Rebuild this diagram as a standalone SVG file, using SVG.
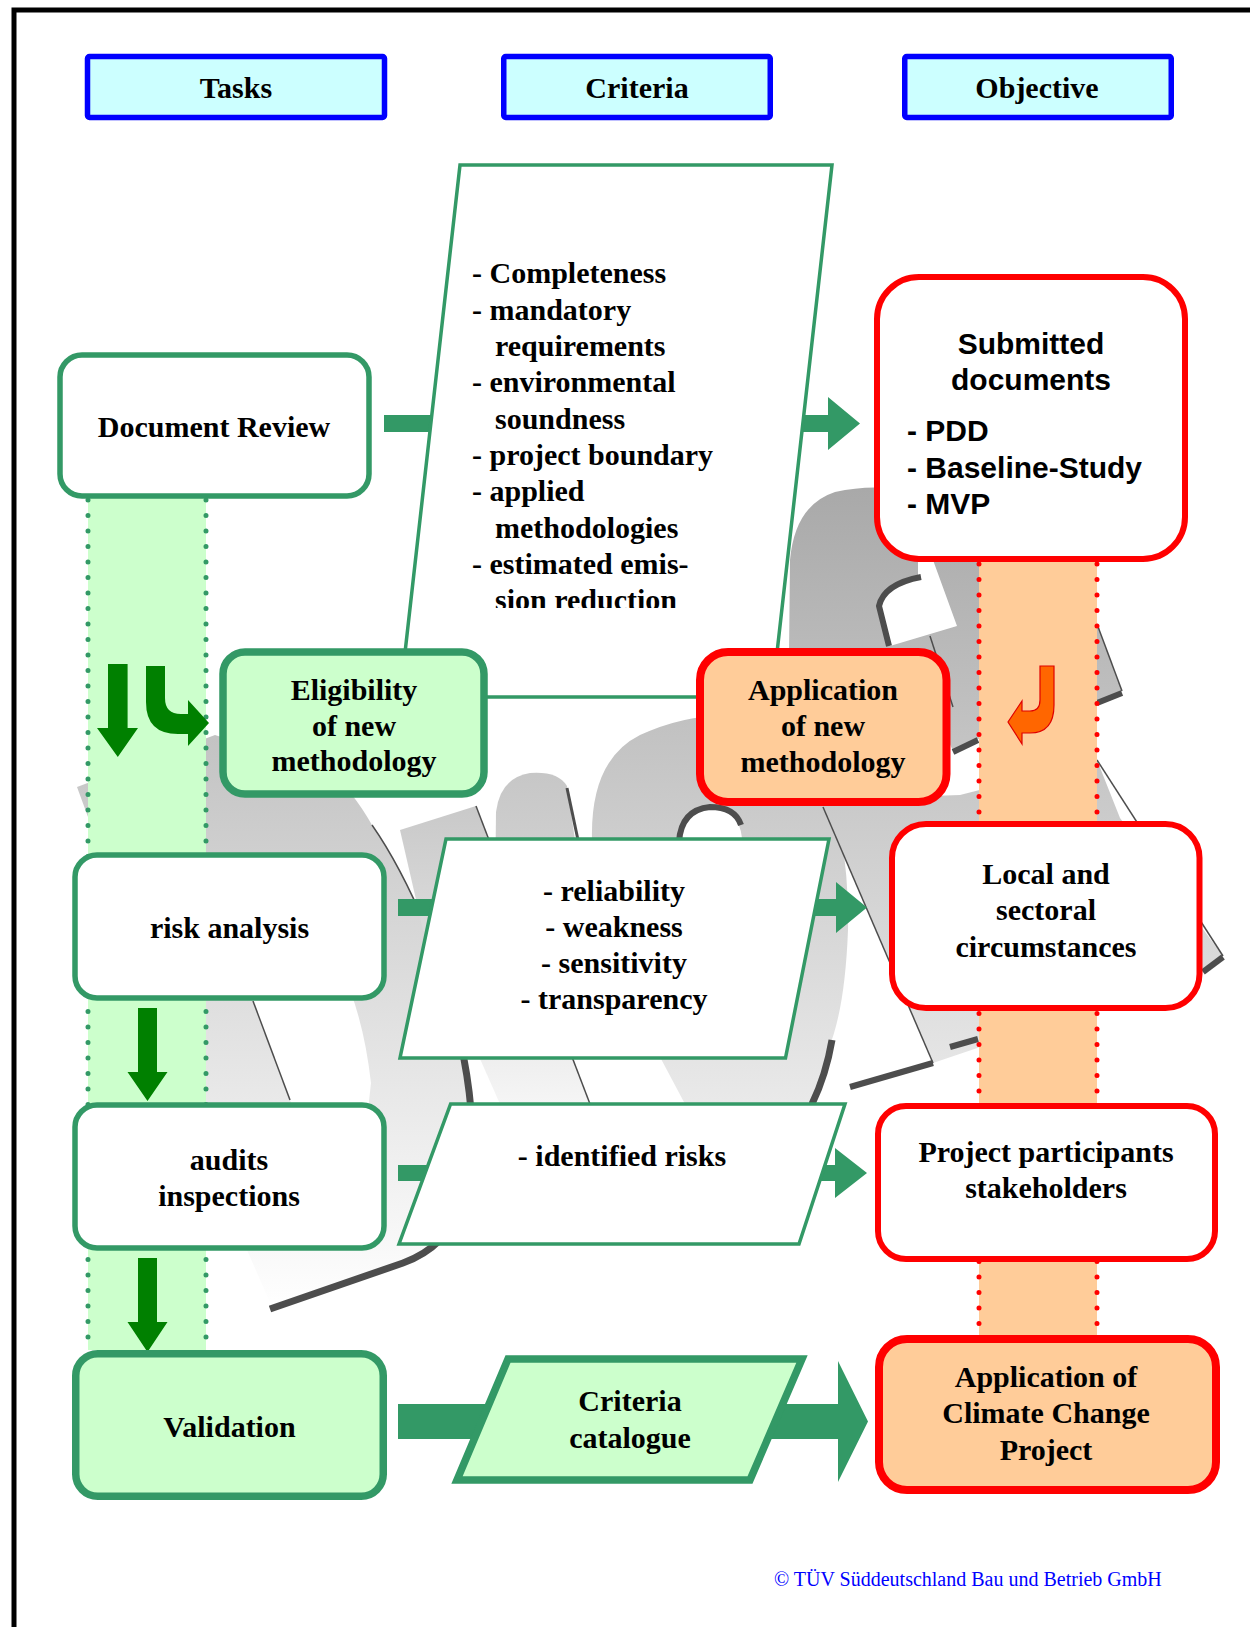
<svg xmlns="http://www.w3.org/2000/svg" width="1250" height="1627" viewBox="0 0 1250 1627">
<style>
.t{font-family:'Liberation Serif','Times New Roman',serif;font-weight:bold;font-size:30px;fill:#000}
.s{font-family:'Liberation Sans',Arial,sans-serif;font-weight:bold;font-size:30px;fill:#000}
.c{text-anchor:middle}
.gb{fill:#fff;stroke:#339966;stroke-width:5.5}
.gf{fill:#CCFFCC;stroke:#339966;stroke-width:7.5}
.rb{fill:#fff;stroke:#FF0000;stroke-width:6}
.rf{fill:#FFCC99;stroke:#FF0000;stroke-width:8}
.hd{fill:#CCFFFF;stroke:#0000FF;stroke-width:5.5}
.pg{fill:#fff;stroke:#339966;stroke-width:3.5}
.ar{fill:#339966}
.dg{fill:#008000}
.gd{stroke:#339966;stroke-width:5;stroke-linecap:round;stroke-dasharray:0 15.5;fill:none}
.rd{stroke:#FF0000;stroke-width:5;stroke-linecap:round;stroke-dasharray:0 15.5;fill:none}
.wm{fill:url(#wm)}
.wa{fill:url(#wa)}
.sh{fill:none;stroke:#4d4d4d}
</style>
<defs>
<linearGradient id="wm" gradientUnits="userSpaceOnUse" x1="0" y1="480" x2="0" y2="1310">
<stop offset="0" stop-color="#a8a8a8"/><stop offset="1" stop-color="#ffffff"/>
</linearGradient>
<linearGradient id="wa" gradientUnits="userSpaceOnUse" x1="0" y1="800" x2="0" y2="1110">
<stop offset="0" stop-color="#c8c8c8"/><stop offset="1" stop-color="#f6f6f6"/>
</linearGradient>
<clipPath id="clip1"><rect x="440" y="160" width="400" height="448"/></clipPath>
</defs>

<rect x="0" y="0" width="1250" height="1627" fill="#fff"/>
<path d="M14,1627 V10 H1250" fill="none" stroke="#000" stroke-width="5"/>

<g id="watermark">
<path class="wm" fill-rule="evenodd" d="M77,787 L215,735 L330,772 Q352,790 372,825 Q400,865 427,929 Q452,995 465,1060 Q482,1160 470,1210 Q460,1235 433,1243 L403,1263 L272,1307 L247,1250 Z M240,955 L253,1001 L290,1100 Q305,1150 330,1185 Q355,1160 368,1110 L371,1083 Q365,1030 350,990 L335,955 Z"/>
<path class="sh" stroke-width="1.5" d="M253,1001 L290,1100"/>
<path class="sh" stroke-width="1.5" d="M372,825 Q400,865 427,929 Q452,995 460,1040"/>
<path class="sh" stroke-width="7" d="M460,1040 Q468,1075 471,1110"/>
<path class="sh" stroke-width="7" d="M270,1309 L403,1263 Q425,1255 440,1240"/>
<path class="wa" d="M400,830 L476,806 L590,1104 L500,1104 L423,930 Z"/>
<path class="sh" stroke-width="1.5" d="M476,806 L590,1104"/>
<path class="wm" d="M495,900 L496,812 Q500,778 530,773 Q558,771 567,786 L578,860 L578,900 Z"/>
<path class="sh" stroke-width="3" d="M567,788 L578,840"/>
<path class="wm" d="M592,840 Q590,760 640,735 Q690,712 740,716 L810,740 Q850,820 848,930 Q845,1010 828,1050 L812,1104 L685,1104 L660,1057 Z"/>
<path fill="#fff" d="M678,840 Q680,808 710,806 Q738,806 742,838 L742,900 L678,900 Z"/>
<path class="sh" stroke-width="6" d="M679,842 Q681,810 710,807 Q735,807 741,825"/>
<path class="sh" stroke-width="7" d="M832,1040 Q826,1075 812,1104"/>
<path class="wm" d="M789,655 L790,560 Q795,505 835,492 Q870,484 905,490 L1000,520 L1074,562 L1122,691 L1097,703 L978,739 L953,751 L930,700 L900,650 Z"/>
<path fill="#fff" d="M918,560 L933,560 L957,626 L890,646 L878,605 Q882,585 918,578 Z"/>
<path class="sh" stroke-width="6" d="M921,577 Q884,584 879,606 L889,646"/>
<path class="sh" stroke-width="1.5" d="M930,636 L953,707"/>
<path class="sh" stroke-width="1.5" d="M1097,624 L1122,691"/>
<path class="sh" stroke-width="6" d="M1097,703 L1122,693"/>
<path class="sh" stroke-width="6" d="M953,752 L978,740"/>
<path class="wm" d="M815,800 L960,795 L1097,760 L1120,818 L1223,956 L1203,972 L933,1063 L823,807 Z"/>
<path class="sh" stroke-width="1.5" d="M823,807 L933,1063"/>
<path class="sh" stroke-width="1.5" d="M1097,760 L1223,956"/>
<path class="sh" stroke-width="6" d="M850,1087 L933,1063"/>
<path class="sh" stroke-width="6" d="M950,1047 L978,1039"/>
<path class="sh" stroke-width="6" d="M1203,972 L1223,957"/>
</g>

<g id="bands">
<rect x="88" y="498" width="118" height="852" fill="#CCFFCC"/>
<path class="gd" d="M88,500 V1350 M206,500 V1350"/>
<rect x="979" y="562" width="118" height="776" fill="#FFCC99"/>
<path class="rd" d="M979,564 V1338 M1097,564 V1338"/>
</g>

<g id="connectors">
<path class="ar" d="M384,415 H828 V397 L860,423.5 L828,450 V432 H384 Z"/>
<path class="ar" d="M398,899 H836 V882 L867,907.5 L836,933 V916 H398 Z"/>
<path class="ar" d="M398,1165 H835 V1148 L867,1173 L835,1198 V1181 H398 Z"/>
<path class="ar" d="M398,1404 H838 V1361 L868,1421.5 L838,1482 V1439 H398 Z"/>
<path class="dg" d="M108,664 H127.6 V728 H138 L117.8,757 L97,728 H108 Z"/>
<path class="dg" d="M146,666 H165 V698 Q165,714 181,714 H188 V700 L209,723 L188,746 V734 H178 Q146,734 146,702 Z"/>
<path class="dg" d="M138,1008 H157 V1072 H167.5 L147.5,1101 L127.5,1072 H138 Z"/>
<path class="dg" d="M138,1258 H157 V1322 H167.5 L147.5,1352 L127.5,1322 H138 Z"/>
<path d="M1040,666 H1054 V705 Q1054,733 1030,733 H1022 V744 L1008,722 L1022,701 V711 H1030 Q1040,711 1040,700 Z" fill="#FF6600" stroke="#E00000" stroke-width="1.2"/>
</g>

<g id="header-tasks"><rect class="hd" x="87.5" y="56.5" width="297" height="61" rx="2"/><text class="t c" x="236" y="98">Tasks</text></g>
<g id="header-criteria"><rect class="hd" x="503.75" y="56.5" width="266.5" height="61" rx="2"/><text class="t c" x="637" y="98">Criteria</text></g>
<g id="header-objective"><rect class="hd" x="904.75" y="56.5" width="266.5" height="61" rx="2"/><text class="t c" x="1037" y="98">Objective</text></g>

<g id="criteria-documents">
<polygon class="pg" stroke-width="3" points="460,165 832,165 772,697 400,697"/>
<g clip-path="url(#clip1)">
<text class="t" x="472" y="283">- Completeness</text>
<text class="t" x="472" y="319.5">- mandatory</text>
<text class="t" x="495" y="356">requirements</text>
<text class="t" x="472" y="392">- environmental</text>
<text class="t" x="495" y="428.5">soundness</text>
<text class="t" x="472" y="465">- project boundary</text>
<text class="t" x="472" y="501">- applied</text>
<text class="t" x="495" y="537.5">methodologies</text>
<text class="t" x="472" y="574">- estimated emis-</text>
<text class="t" x="495" y="610">sion reduction</text>
</g>
</g>

<g id="document-review"><rect class="gb" x="60" y="355" width="309" height="141" rx="22"/><text class="t c" x="214" y="437">Document Review</text></g>

<g id="submitted-documents"><rect class="rb" x="877" y="277" width="308" height="282" rx="42"/>
<text class="s c" x="1031" y="354">Submitted</text>
<text class="s c" x="1031" y="390">documents</text>
<text class="s" x="907" y="441">- PDD</text>
<text class="s" x="907" y="477.5">- Baseline-Study</text>
<text class="s" x="907" y="514">- MVP</text>
</g>

<g id="eligibility"><rect class="gf" x="223" y="652" width="261" height="142" rx="22"/>
<text class="t c" x="354" y="700">Eligibility</text>
<text class="t c" x="354" y="735.5">of new</text>
<text class="t c" x="354" y="770.5">methodology</text>
</g>

<g id="application-new"><rect class="rf" x="700" y="652" width="246.5" height="150" rx="28"/>
<text class="t c" x="823" y="700">Application</text>
<text class="t c" x="823" y="735.5">of new</text>
<text class="t c" x="823" y="772">methodology</text>
</g>

<g id="risk-analysis"><rect class="gb" x="75" y="855" width="309" height="143" rx="22"/><text class="t c" x="229.5" y="938">risk analysis</text></g>

<g id="criteria-risk">
<polygon class="pg" points="446,839 829,839 785.5,1058 400,1058"/>
<text class="t c" x="614" y="901">- reliability</text>
<text class="t c" x="614" y="937">- weakness</text>
<text class="t c" x="614" y="973">- sensitivity</text>
<text class="t c" x="614" y="1009">- transparency</text>
</g>

<g id="local-sectoral"><rect class="rb" x="892" y="824" width="307.5" height="184" rx="34"/>
<text class="t c" x="1046" y="883.5">Local and</text>
<text class="t c" x="1046" y="920">sectoral</text>
<text class="t c" x="1046" y="957">circumstances</text>
</g>

<g id="audits"><rect class="gb" x="75" y="1105" width="309" height="143" rx="22"/>
<text class="t c" x="229" y="1170">audits</text>
<text class="t c" x="229" y="1206">inspections</text>
</g>

<g id="criteria-identified">
<polygon class="pg" points="450.6,1104 845,1104 799,1244 399,1244"/>
<text class="t c" x="622" y="1166">- identified risks</text>
</g>

<g id="project-participants"><rect class="rb" x="878" y="1106" width="337" height="153" rx="28"/>
<text class="t c" x="1046" y="1162">Project participants</text>
<text class="t c" x="1046" y="1198">stakeholders</text>
</g>

<g id="validation"><rect class="gf" x="75.75" y="1353.75" width="307.5" height="142.5" rx="22"/><text class="t c" x="229.5" y="1437">Validation</text></g>

<g id="criteria-catalogue">
<polygon points="508,1359 802,1359 750,1480 457,1480" fill="#CCFFCC" stroke="#339966" stroke-width="7.5"/>
<text class="t c" x="630" y="1411">Criteria</text>
<text class="t c" x="630" y="1447.5">catalogue</text>
</g>

<g id="application-ccp"><rect class="rf" x="879" y="1339" width="337" height="151" rx="28"/>
<text class="t c" x="1046" y="1387">Application of</text>
<text class="t c" x="1046" y="1423">Climate Change</text>
<text class="t c" x="1046" y="1460">Project</text>
</g>

<text x="774" y="1586" font-family="'Liberation Serif','Times New Roman',serif" font-size="20" fill="#0000FF">© TÜV Süddeutschland Bau und Betrieb GmbH</text>
</svg>
